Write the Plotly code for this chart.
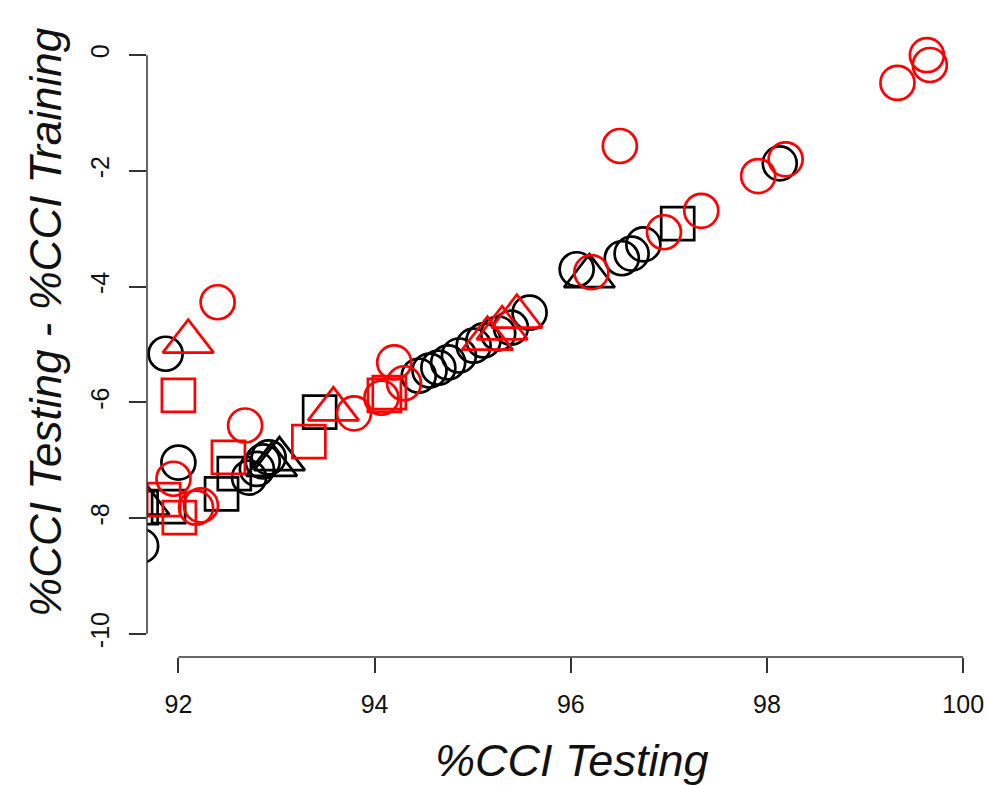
import plotly.graph_objects as go

# Data (x = %CCI Testing, y = %CCI Testing - %CCI Training)
black_circle_x = [91.87, 92.00, 91.62, 92.72, 92.80, 92.86, 92.92, 94.45, 94.56, 94.65, 94.75,
                  94.86, 95.01, 95.11, 95.26, 95.39, 95.58, 96.06, 96.52, 96.62, 96.74, 98.13]
black_circle_y = [-5.16, -7.04, -8.48, -7.30, -7.15, -7.02, -6.95, -5.54, -5.45, -5.40, -5.31,
                  -5.19, -5.02, -4.93, -4.81, -4.71, -4.45, -3.70, -3.51, -3.43, -3.27, -1.87]

black_square_x = [91.62, 91.90, 92.44, 92.57, 93.44, 97.09]
black_square_y = [-7.82, -7.80, -7.58, -7.23, -6.17, -2.91]

black_triangle_x = [91.65, 92.95, 93.03, 96.19]
black_triangle_y = [-7.75, -7.08, -6.98, -3.82]

red_circle_x = [99.63, 99.66, 99.33, 96.50, 97.91, 98.19, 97.33, 96.95, 96.21, 92.40,
                92.68, 91.95, 92.18, 92.23, 93.79, 94.20, 94.07, 94.30]
red_circle_y = [0.00, -0.17, -0.48, -1.57, -2.09, -1.80, -2.69, -3.06, -3.75, -4.27,
                -6.40, -7.32, -7.82, -7.78, -6.19, -5.31, -5.92, -5.67]

red_square_x = [92.00, 92.51, 91.85, 92.01, 93.33, 94.10, 94.15]
red_square_y = [-5.88, -6.95, -7.68, -7.99, -6.68, -5.88, -5.83]

red_triangle_x = [92.10, 93.58, 95.15, 95.30, 95.45]
red_triangle_y = [-4.95, -6.12, -4.90, -4.72, -4.52]

x_ticks = [92, 94, 96, 98, 100]
y_ticks = [0, -2, -4, -6, -8, -10]

BLACK = "#000000"
RED = "#FF0000"
LW = 2.7

fig = go.Figure()

def add(xs, ys, symbol, color, size):
    fig.add_trace(go.Scatter(
        x=xs, y=ys, mode="markers", showlegend=False,
        marker=dict(symbol=symbol, size=size, color=color,
                    line=dict(color=color, width=LW)),
    ))

add(black_circle_x, black_circle_y, "circle-open", BLACK, 34)
add(black_square_x, black_square_y, "square-open", BLACK, 33)
add(black_triangle_x, black_triangle_y, "triangle-up-open", BLACK, 44)
add(red_circle_x, red_circle_y, "circle-open", RED, 34)
add(red_square_x, red_square_y, "square-open", RED, 33)
add(red_triangle_x, red_triangle_y, "triangle-up-open", RED, 44)

axis_col = "#333333"
font_family = "Liberation Sans, Arial, Helvetica, sans-serif"

fig.update_layout(
    width=988, height=785,
    margin=dict(l=147, r=0, t=32, b=128),
    paper_bgcolor="white", plot_bgcolor="white",
    font=dict(family=font_family, color="#111111"),
    xaxis=dict(range=[91.68, 100.253], showgrid=False, zeroline=False, showline=False,
               tickvals=x_ticks, ticktext=[str(v) for v in x_ticks],
               ticks="outside", ticklen=15, tickwidth=1.5, tickcolor=axis_col,
               tickfont=dict(size=25, family=font_family, color="#111111"),
               ticklabelstandoff=10),
    yaxis=dict(range=[-10.4, 0.4], showgrid=False, zeroline=False, showline=False,
               tickvals=y_ticks, ticktext=[str(v) for v in y_ticks],
               ticks="outside", ticklen=17, tickwidth=1.5, tickcolor=axis_col,
               tickangle=-90,
               tickfont=dict(size=25, family=font_family, color="#111111"),
               ticklabelstandoff=10),
    shapes=[
        dict(type="line", xref="x", yref="paper", x0=x_ticks[0], x1=x_ticks[-1], y0=0, y1=0,
             line=dict(color=axis_col, width=1.5)),
        dict(type="line", xref="paper", yref="y", x0=0, x1=0, y0=min(y_ticks), y1=max(y_ticks),
             line=dict(color=axis_col, width=1.5)),
    ],
    annotations=[
        dict(text="<i>%CCI Testing</i>", xref="paper", yref="paper", x=0.505, y=-0.165,
             xanchor="center", yanchor="middle", showarrow=False,
             font=dict(size=45, family=font_family, color="#111111")),
        dict(text="<i>%CCI Testing - %CCI Training</i>", xref="paper", yref="paper",
             x=-0.1213, y=0.536, textangle=-90, xanchor="center", yanchor="middle",
             showarrow=False, font=dict(size=44, family=font_family, color="#111111")),
    ],
)

fig.write_html("out.html")
